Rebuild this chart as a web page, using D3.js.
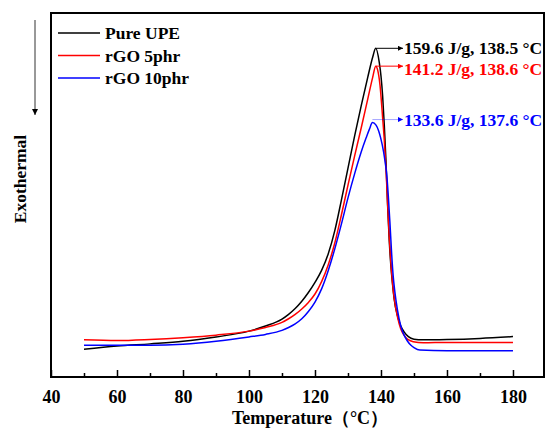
<!DOCTYPE html>
<html><head><meta charset="utf-8">
<script src="https://cdn.jsdelivr.net/npm/d3@7"></script>
<style>body{margin:0;background:#fff}svg{display:block}</style>
</head><body>
<script>
// ---- data ----
const tempPure = [50,60,70,80,90,100,105,110,112,114,116,118,120,122,124,126,128,130,132,134,136,137.5,138.4,139.5,140,140.5,141,141.5,142,142.5,143,143.5,144,145,146,147,148.3,150,152.7,160,170,180];
const heatPure = [0.76,0.85,0.91,0.98,1.10,1.26,1.40,1.59,1.72,1.88,2.08,2.32,2.60,2.93,3.38,4.02,4.86,5.74,6.62,7.45,8.24,8.79,9.03,8.63,8.27,7.72,6.92,5.96,4.73,3.76,3.05,2.55,2.14,1.68,1.40,1.24,1.11,1.04,1.02,1.03,1.06,1.11];
const temp5 = [50,60,70,80,90,100,105,110,112,114,116,118,120,122,124,126,128,130,132,134,136,137.5,138.4,139,139.7,140.5,141,141.5,142,142.5,143,143.5,144,145,146,147,148,149.8,152.8,160,170,180];
const heat5 = [1.02,1.00,1.03,1.08,1.15,1.26,1.36,1.50,1.60,1.72,1.87,2.05,2.28,2.62,3.08,3.68,4.45,5.27,6.07,6.84,7.64,8.24,8.54,8.43,8.02,7.12,6.51,5.74,4.78,3.85,3.13,2.58,2.17,1.65,1.32,1.15,1.04,0.97,0.94,0.95,0.95,0.95];
const temp10 = [50,60,70,80,90,100,105,110,112,114,116,118,120,122,124,126,128,130,132,134,135.5,136.5,137.4,138.5,139.3,139.9,140.8,141.3,141.7,142.2,142.7,143.2,143.7,144.2,145,146,147,148,149,150,151.8,160,170,180];
const heat10 = [0.87,0.87,0.87,0.90,0.98,1.10,1.17,1.28,1.36,1.46,1.60,1.80,2.06,2.42,2.92,3.52,4.20,4.92,5.58,6.18,6.57,6.81,6.99,6.92,6.76,6.57,6.18,5.88,5.60,5.00,4.26,3.43,2.77,2.34,1.84,1.40,1.15,0.99,0.88,0.81,0.74,0.72,0.72,0.72];
const seriesNames = ["Pure UPE","rGO 5phr","rGO 10phr"];
const seriesColors = ["#000000","#ff0000","#0000ff"];
const peakTemps = [138.4,138.4,137.4];
const peakHeats = [9.03,8.54,6.99];
const peakLabels = ["159.6 J/g, 138.5 °C","141.2 J/g, 138.6 °C","133.6 J/g, 137.6 °C"];
const xTicks = [40,60,80,100,120,140,160,180];
const xMinor = [50,70,90,110,130,150,170];

const W=547,H=429;
const m={l:51,r:3,t:13,b:52};
const svg=d3.select("body").append("svg").attr("width",W).attr("height",H);
const x=d3.scaleLinear().domain([40,189.4]).range([m.l,W-m.r]);
const y=d3.scaleLinear().domain([0,10]).range([H-m.b,m.t]);
const font='"Liberation Serif","Times New Roman",serif';

const series=[[tempPure,heatPure],[temp5,heat5],[temp10,heat10]];
const line=d3.line().x(d=>x(d[0])).y(d=>y(d[1])).curve(d3.curveMonotoneX);
series.forEach((s,i)=>{
  const pts=s[0].map((t,j)=>[t,s[1][j]]);
  svg.append("path").datum(pts).attr("d",line).attr("fill","none")
    .attr("stroke",seriesColors[i]).attr("stroke-width",1.5).attr("stroke-linejoin","round");
});

// axes frame
svg.append("rect").attr("x",m.l).attr("y",m.t).attr("width",W-m.r-m.l).attr("height",H-m.b-m.t)
  .attr("fill","none").attr("stroke","#000").attr("stroke-width",2);
const xAxis=d3.axisBottom(x).tickValues(xTicks).tickSize(-7).tickPadding(13).tickFormat(d3.format("d"));
const gx=svg.append("g").attr("transform",`translate(0,${H-m.b})`).call(xAxis);
gx.select(".domain").remove();
gx.selectAll(".tick line").attr("stroke-width",1.5);
gx.selectAll("text").attr("font-family",font).attr("font-weight","bold").attr("font-size",18).attr("fill","#000");
const xAxisMinor=d3.axisBottom(x).tickValues(xMinor).tickSize(-4).tickFormat("");
const gm=svg.append("g").attr("transform",`translate(0,${H-m.b})`).call(xAxisMinor);
gm.select(".domain").remove();
gm.selectAll(".tick line").attr("stroke-width",1.5);

// axis titles
svg.append("text").attr("x",310).attr("y",424).attr("text-anchor","middle")
  .attr("font-family",font).attr("font-weight","bold").attr("font-size",18).text("Temperature（°C）");
svg.append("text").attr("transform","translate(26,179) rotate(-90)").attr("text-anchor","middle")
  .attr("font-family",font).attr("font-weight","bold").attr("font-size",17.5).text("Exothermal");

// defs arrow markers
const defs=svg.append("defs");
seriesColors.forEach((c,i)=>{
  defs.append("marker").attr("id","ah"+i).attr("viewBox","0 0 10 10").attr("refX",10).attr("refY",5)
    .attr("markerWidth",9).attr("markerHeight",5).attr("markerUnits","userSpaceOnUse").attr("orient","auto")
    .append("path").attr("d","M0,0L10,5L0,10Z").attr("fill",c);
});
defs.append("marker").attr("id","ahk").attr("viewBox","0 0 10 10").attr("refX",10).attr("refY",5)
  .attr("markerWidth",6).attr("markerHeight",9).attr("markerUnits","userSpaceOnUse").attr("orient","auto")
  .append("path").attr("d","M0,0L10,5L0,10Z").attr("fill","#000");

// exothermal arrow
svg.append("line").attr("x1",35).attr("x2",35).attr("y1",20).attr("y2",115)
  .attr("stroke","#333").attr("stroke-width",1).attr("marker-end","url(#ahk)");

// legend
seriesNames.forEach((n,i)=>{
  const ly=33+i*22.5;
  svg.append("line").attr("x1",58).attr("x2",100).attr("y1",ly).attr("y2",ly)
    .attr("stroke",seriesColors[i]).attr("stroke-width",1.5);
  svg.append("text").attr("x",105).attr("y",ly+6).attr("font-family",font).attr("font-weight","bold")
    .attr("font-size",17.5).text(n);
});

// peak annotations
const labelDy=[5.5,9,6];
peakTemps.forEach((t,i)=>{
  const px=x(t), py=y(peakHeats[i]) - (i===2?3:0);
  svg.append("line").attr("x1",px).attr("x2",403).attr("y1",py).attr("y2",py)
    .attr("stroke",seriesColors[i]).attr("stroke-width",i===2?0.6:1).attr("stroke-opacity",i===2?0.6:1)
    .attr("marker-end",`url(#ah${i})`);
  svg.append("text").attr("x",404).attr("y",py+labelDy[i]).attr("font-family",font).attr("font-weight","bold")
    .attr("font-size",17.5).attr("fill",seriesColors[i]).text(peakLabels[i]);
});
</script>
</body></html>
